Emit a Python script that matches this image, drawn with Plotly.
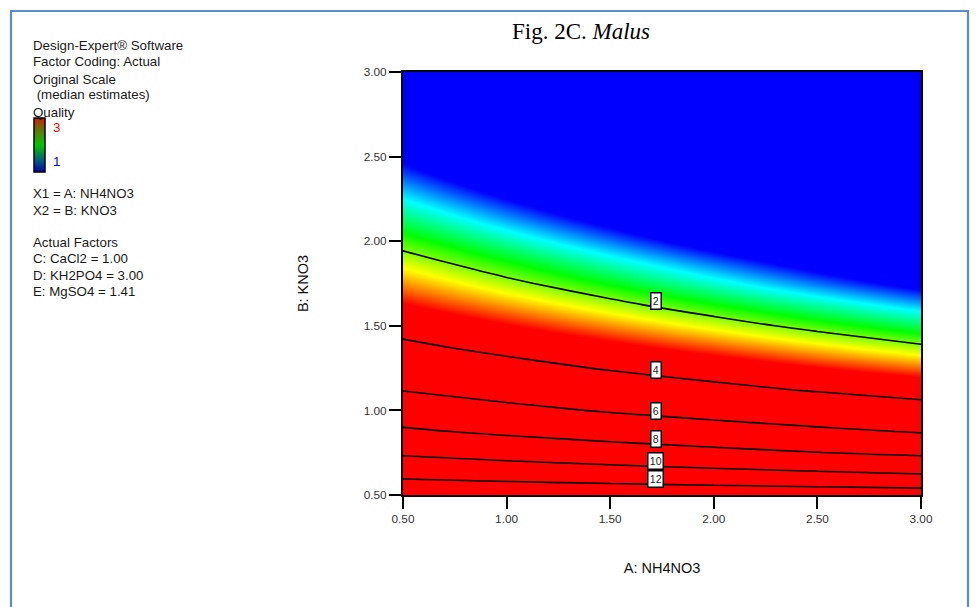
import numpy as np
import plotly.graph_objects as go

# A: NH4NO3 grid values (x) and B: KNO3 grid values (y)
a_levels = [0.5, 1.0, 1.5, 2.0, 2.5, 3.0]
b_levels = [0.5, 0.625, 0.75, 0.875, 1.0, 1.125, 1.25, 1.375, 1.5, 1.625, 1.75,
            1.875, 2.0, 2.125, 2.25, 2.375, 2.5, 2.625, 2.75, 2.875, 3.0]

# Quality (original scale, median estimates) read along each A column, bottom to top
q_a050 = [13.58, 11.50, 9.74, 8.25, 6.98, 5.91, 5.01, 4.24, 3.59, 3.04, 2.58, 2.18, 1.85, 1.56, 1.32, 1.12, 0.95, 0.80, 0.68, 0.58, 0.49]
q_a100 = [13.46, 11.18, 9.28, 7.71, 6.40, 5.32, 4.42, 3.67, 3.05, 2.53, 2.10, 1.75, 1.45, 1.20, 1.00, 0.83, 0.69, 0.57, 0.48, 0.40, 0.33]
q_a150 = [13.34, 10.86, 8.85, 7.21, 5.87, 4.79, 3.90, 3.18, 2.59, 2.11, 1.72, 1.40, 1.14, 0.93, 0.76, 0.62, 0.50, 0.41, 0.33, 0.27, 0.22]
q_a200 = [13.22, 10.56, 8.44, 6.74, 5.39, 4.30, 3.44, 2.75, 2.20, 1.75, 1.40, 1.12, 0.89, 0.72, 0.57, 0.46, 0.36, 0.29, 0.23, 0.19, 0.15]
q_a250 = [13.10, 10.27, 8.04, 6.30, 4.94, 3.87, 3.03, 2.38, 1.86, 1.46, 1.14, 0.90, 0.70, 0.55, 0.43, 0.34, 0.27, 0.21, 0.16, 0.13, 0.10]
q_a300 = [12.98, 9.98, 7.67, 5.90, 4.53, 3.48, 2.68, 2.06, 1.58, 1.22, 0.93, 0.72, 0.55, 0.42, 0.33, 0.25, 0.19, 0.15, 0.11, 0.09, 0.07]

contour_levels = [2, 4, 6, 8, 10, 12]
tick_vals = [0.5, 1.0, 1.5, 2.0, 2.5, 3.0]

side_lines_1 = ["Design-Expert® Software", "Factor Coding: Actual", "Original Scale",
                " (median estimates)", "Quality"]
side_lines_2 = ["X1 = A: NH4NO3", "X2 = B: KNO3"]
side_lines_3 = ["Actual Factors", "C: CaCl2 = 1.00", "D: KH2PO4 = 3.00", "E: MgSO4 = 1.41"]

cols = [q_a050, q_a100, q_a150, q_a200, q_a250, q_a300]
z = np.column_stack([np.array(c, dtype=float) for c in cols])  # rows = B, cols = A
b_arr = np.array(b_levels)

# page body adds an 8px offset; work in window pixels and convert
OFF = 8
W, H = 979 - OFF, 607 - OFF
L, R, T, B = 403 - OFF, 921 - OFF, 72 - OFF, 495 - OFF
FONT = "Liberation Sans, Arial, sans-serif"


def fx(wx):
    return (wx - OFF - L) / (R - L)


def fy(wy):
    return (B - (wy - OFF)) / (B - T)


rainbow = [[0.0, "rgb(0,0,255)"], [0.25, "rgb(0,255,255)"], [0.5, "rgb(0,255,0)"],
           [0.75, "rgb(255,255,0)"], [1.0, "rgb(255,0,0)"]]
legend_scale = [[0.0, "rgb(0,0,170)"], [0.2, "rgb(0,90,130)"], [0.5, "rgb(0,200,0)"],
                [0.8, "rgb(110,110,0)"], [1.0, "rgb(210,30,0)"]]

fig = go.Figure()
fig.add_trace(go.Heatmap(
    x=a_levels, y=b_levels, z=np.log(z), zmin=0, zmax=np.log(3), zsmooth="best",
    colorscale=rainbow, hoverinfo="skip", showscale=False,
))
# colour key of the Quality scale (drawn as the trace's colour bar only)
fig.add_trace(go.Heatmap(
    x=a_levels, y=b_levels, z=np.log(z), zmin=0, zmax=np.log(3), opacity=0,
    colorscale=legend_scale, hoverinfo="skip", showscale=True,
    colorbar=dict(x=fx(34), xanchor="left", xpad=0,
                  y=fy(118), yanchor="top", ypad=0,
                  lenmode="pixels", len=54, thickness=11, thicknessmode="pixels",
                  outlinecolor="black", outlinewidth=1.5, borderwidth=0,
                  showticklabels=False, ticks=""),
))
fig.add_trace(go.Contour(
    x=a_levels, y=b_levels, z=z, showscale=False, hoverinfo="skip",
    contours=dict(start=2, end=12, size=2, coloring="none", showlabels=False),
    line=dict(color="black", width=1.6, smoothing=1),
))

annotations = []
label_a = 1.72
for lev in contour_levels:
    yc = [np.interp(lev, np.array(c)[::-1], b_arr[::-1]) for c in cols]
    y_lab = float(np.interp(label_a, a_levels, yc))
    annotations.append(dict(x=label_a, y=y_lab, xref="x", yref="y", text=str(lev),
                            showarrow=False, yshift=5,
                            font=dict(family=FONT, size=10.5, color="#222"),
                            bgcolor="white", bordercolor="black", borderwidth=1.5, borderpad=1.3))

side_y = [45, 62, 79, 95, 112, 193, 210, 242, 258.5, 275, 291.5]
side_text = side_lines_1 + side_lines_2 + side_lines_3
for txt, py in zip(side_text, side_y):
    annotations.append(dict(x=fx(31), y=fy(py), xref="paper", yref="paper", text=txt,
                            showarrow=False, xanchor="left", yanchor="middle",
                            font=dict(family=FONT, size=13.3, color="#1a1a1a")))
annotations.append(dict(x=fx(51), y=fy(127.5), xref="paper", yref="paper", text="3",
                        showarrow=False, xanchor="left", yanchor="middle",
                        font=dict(family=FONT, size=13.3, color="#ff0000")))
annotations.append(dict(x=fx(51), y=fy(161), xref="paper", yref="paper", text="1",
                        showarrow=False, xanchor="left", yanchor="middle",
                        font=dict(family=FONT, size=13.3, color="#0000ff")))

axis_common = dict(range=[0.5, 3.0], tickvals=tick_vals, tickformat=".2f",
                   showline=True, linecolor="black", linewidth=2, mirror=True,
                   ticks="outside", ticklen=12, tickwidth=1.5, tickcolor="black",
                   showgrid=False, zeroline=False,
                   tickfont=dict(family=FONT, size=11.8, color="#333"))

fig.update_layout(
    width=W, height=H, margin=dict(l=L, r=W - R, t=T, b=H - B, autoexpand=False),
    paper_bgcolor="white", plot_bgcolor="white",
    title=dict(text="Fig. 2C. <i>Malus</i>", xref="container", x=(581 - OFF) / W, xanchor="center",
               yref="container", y=1 - (31 - OFF) / H, yanchor="middle",
               font=dict(family="Liberation Serif, Times New Roman, serif", size=23, color="black")),
    xaxis=dict(**axis_common, title=dict(text="A: NH4NO3", standoff=38,
                                         font=dict(family=FONT, size=14.5, color="#111"))),
    yaxis=dict(**axis_common, title=dict(text="B: KNO3", standoff=52,
                                         font=dict(family=FONT, size=14.5, color="#111"))),
    annotations=annotations,
    shapes=[dict(type="rect", xref="paper", yref="paper",
                 x0=fx(11), x1=fx(968), y0=fy(720), y1=fy(11),
                 line=dict(color="#5b8bd0", width=2.2), fillcolor="rgba(0,0,0,0)", layer="above")],
)

fig.write_html("out.html")
